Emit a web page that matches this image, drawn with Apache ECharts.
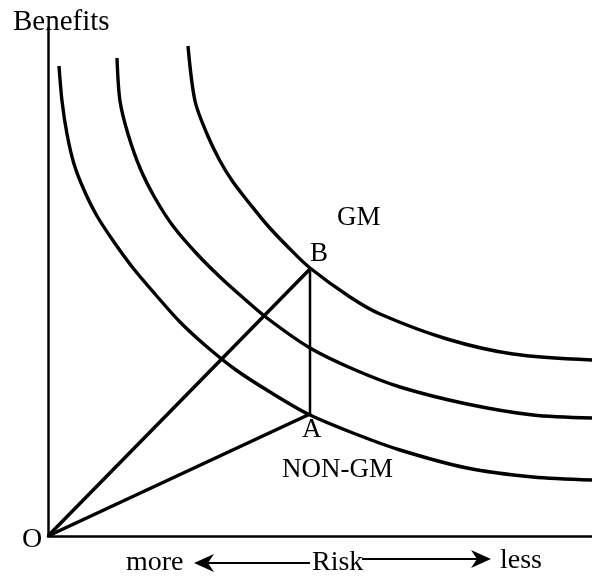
<!DOCTYPE html>
<html>
<head>
<meta charset="utf-8">
<script src="https://cdn.jsdelivr.net/npm/echarts@6/dist/echarts.min.js"></script>
<style>
  html, body { margin: 0; padding: 0; background: #fff; }
  #chart { width: 592px; height: 579px; }
</style>
</head>
<body>
<div id="chart"></div>
<script>
// risk (x, towards "less") / benefits (y) points
const nonGmCurve = [[11, 470], [14, 435], [19, 402], [26, 372], [36, 346], [49, 320], [66, 294], [85, 268],
  [107, 242], [132, 214], [158, 190], [188, 166], [222, 144], [260, 122], [305, 103], [352, 86], [419, 68],
  [485, 59], [544, 56]]
const midCurve = [[69, 478], [72, 435], [80, 402], [92, 368], [107, 338], [125, 310], [149, 282], [172, 259],
  [192, 241], [219, 218], [262, 188], [305, 167], [352, 149], [419, 132], [485, 121], [544, 118]]
const gmCurve = [[140, 490], [147, 435], [159, 402], [172, 375], [185, 354], [202, 332], [220, 310], [241, 288],
  [262, 268], [302, 239], [332, 222], [399, 197], [465, 182], [544, 176]]
const pointO = [0, 0]
const pointA = [262, 122]
const pointB = [262, 267]

const font = '"Liberation Serif", "Times New Roman", serif'
const black = '#000'

const chart = echarts.init(document.getElementById('chart'), null, { renderer: 'canvas' })

function curve (data, width, smooth) {
  return {
    type: 'line',
    data: data,
    smooth: smooth,
    symbol: 'none',
    silent: true,
    lineStyle: { color: black, width: width }
  }
}

function text (str, x, y, size) {
  return {
    type: 'text',
    x: x,
    y: y,
    silent: true,
    style: { text: str, font: size + 'px ' + font, fill: black, verticalAlign: 'middle' }
  }
}

const option = {
  animation: false,
  backgroundColor: '#fff',
  grid: { left: 48, right: 0, top: 28, bottom: 43 },
  xAxis: {
    type: 'value',
    min: 0,
    max: 544,
    axisLine: { show: true, lineStyle: { color: black, width: 2.5 } },
    axisTick: { show: false },
    axisLabel: { show: false },
    splitLine: { show: false }
  },
  yAxis: {
    type: 'value',
    min: 0,
    max: 508,
    axisLine: { show: true, lineStyle: { color: black, width: 2.5 } },
    axisTick: { show: false },
    axisLabel: { show: false },
    splitLine: { show: false }
  },
  series: [
    curve(nonGmCurve, 3.4, 0.3),
    curve(midCurve, 3.4, 0.3),
    curve(gmCurve, 3.4, 0.3),
    curve([pointO, pointB], 3.5, false),
    curve([pointO, pointA], 3.5, false),
    curve([pointA, pointB], 2.5, false)
  ],
  graphic: [
    text('Benefits', 13, 22, 29),
    text('O', 22, 540, 28),
    text('GM', 337, 218, 27),
    text('B', 310, 254, 27),
    text('A', 302, 430, 27),
    text('NON-GM', 282, 470, 27),
    text('more', 126, 563, 28),
    text('Risk', 312, 563, 28),
    text('less', 500, 561, 28),
    { type: 'line', silent: true, shape: { x1: 205, y1: 563, x2: 310, y2: 563 }, style: { stroke: black, lineWidth: 1.8 } },
    { type: 'polygon', silent: true, shape: { points: [[194, 563], [214, 554], [208, 563], [214, 572]] }, style: { fill: black } },
    { type: 'line', silent: true, shape: { x1: 362, y1: 559, x2: 480, y2: 559 }, style: { stroke: black, lineWidth: 1.8 } },
    { type: 'polygon', silent: true, shape: { points: [[491, 559], [471, 550], [477, 559], [471, 568]] }, style: { fill: black } }
  ]
}

option && chart.setOption(option)
</script>
</body>
</html>
